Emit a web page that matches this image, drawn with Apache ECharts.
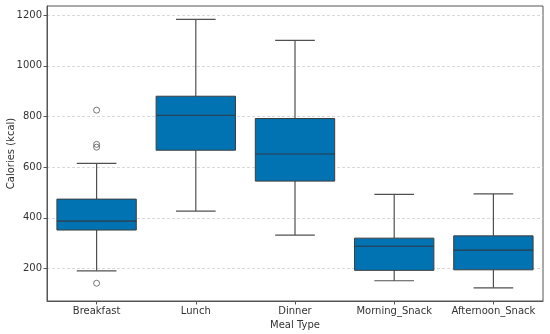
<!DOCTYPE html>
<html><head><meta charset="utf-8">
<script src="https://cdn.jsdelivr.net/npm/echarts@6/dist/echarts.min.js"></script>
<style>html,body{margin:0;padding:0;background:#fff}#c{width:550px;height:334px}</style>
</head><body><div id="c"></div>
<script>
const categories = ['Breakfast','Lunch','Dinner','Morning_Snack','Afternoon_Snack'];
// [lowerWhisker, Q1, median, Q3, upperWhisker]
const boxStats = [
  [191, 352, 387, 474, 615],
  [427, 667, 805, 880, 1183],
  [332, 545, 652, 792, 1100],
  [152, 193, 288, 320, 493],
  [124, 195, 273, 329, 495]
];
const outlierCategory = ['Breakfast','Breakfast','Breakfast','Breakfast'];
const outlierValues = [825, 690, 679, 142];
const yTicks = [200, 400, 600, 800, 1000, 1200];

const lineColor = '#505050';
const chart = echarts.init(document.getElementById('c'), null, {renderer:'canvas'});
const font = 'DejaVu Sans';
chart.setOption({
  animation: false,
  grid: {left: 47, right: 7, top: 6, bottom: 33, show: true, borderColor: '#555', borderWidth: 1,
    containLabel: false, outerBoundsMode: 'none'},
  xAxis: {
    type: 'category', data: categories,
    name: 'Meal Type', nameLocation: 'middle', nameGap: 19, nameMoveOverlap: false,
    nameTextStyle: {fontFamily: font, fontSize: 10, color: '#333'},
    axisLine: {show: true, lineStyle: {color: '#555'}},
    axisTick: {show: true, alignWithLabel: true, length: 3.5, lineStyle: {color: '#555'}},
    axisLabel: {fontFamily: font, fontSize: 10, color: '#333', margin: 5, interval: 0, hideOverlap: false},
    splitLine: {show: false}
  },
  yAxis: {
    type: 'value', min: 72, max: 1236,
    name: 'Calories (kcal)', nameLocation: 'middle', nameGap: 31, nameMoveOverlap: false,
    nameTextStyle: {fontFamily: font, fontSize: 10, color: '#333'},
    axisLine: {show: true, lineStyle: {color: '#555'}},
    axisTick: {show: true, length: 3.5, customValues: yTicks, lineStyle: {color: '#555'}},
    axisLabel: {fontFamily: font, fontSize: 10, color: '#333', margin: 5, customValues: yTicks,
      formatter: v => String(v)},
    splitLine: {show: true, lineStyle: {color: '#cfcfcf', type: [3, 2], width: 0.8}}
  },
  series: [
    {
      type: 'custom',
      data: boxStats.map((s, i) => [i, ...s]),
      encode: {x: 0, y: [1, 2, 3, 4, 5]},
      renderItem: function (params, api) {
        const idx = api.value(0);
        const band = api.size([1, 0])[0];
        const bw = band * 0.8;
        const cw = bw / 2;
        const pMin = api.coord([idx, api.value(1)]);
        const pQ1 = api.coord([idx, api.value(2)]);
        const pMed = api.coord([idx, api.value(3)]);
        const pQ3 = api.coord([idx, api.value(4)]);
        const pMax = api.coord([idx, api.value(5)]);
        const x = pMed[0];
        const ls = {stroke: lineColor, lineWidth: 1.2};
        return {
          type: 'group',
          children: [
            {type: 'line', shape: {x1: x, y1: pQ1[1], x2: x, y2: pMin[1]}, style: ls},
            {type: 'line', shape: {x1: x, y1: pQ3[1], x2: x, y2: pMax[1]}, style: ls},
            {type: 'line', shape: {x1: x - cw/2, y1: pMin[1], x2: x + cw/2, y2: pMin[1]}, style: ls},
            {type: 'line', shape: {x1: x - cw/2, y1: pMax[1], x2: x + cw/2, y2: pMax[1]}, style: ls},
            {type: 'rect', shape: {x: x - bw/2, y: pQ3[1], width: bw, height: pQ1[1] - pQ3[1]},
              style: {fill: '#0173b2', stroke: '#3d3d3d', lineWidth: 1}},
            {type: 'line', shape: {x1: x - bw/2, y1: pMed[1], x2: x + bw/2, y2: pMed[1]},
              style: {stroke: '#2e3a44', lineWidth: 1.2}}
          ]
        };
      }
    },
    {
      type: 'scatter',
      data: outlierCategory.map((c, i) => [c, outlierValues[i]]),
      symbol: 'circle', symbolSize: 6,
      itemStyle: {color: 'rgba(255,255,255,0)', borderColor: '#555', borderWidth: 1}
    }
  ]
});
</script></body></html>
